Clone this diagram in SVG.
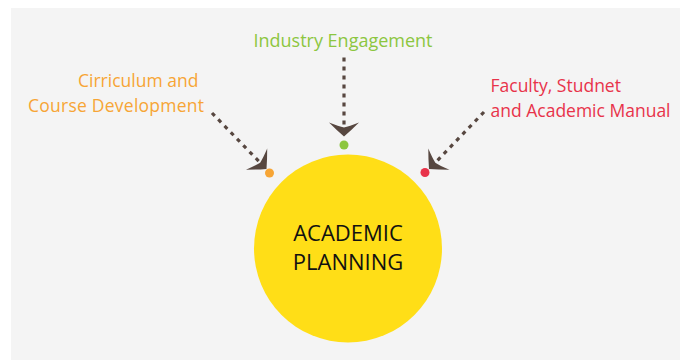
<svg xmlns="http://www.w3.org/2000/svg" width="680" height="360" viewBox="0 0 680 360">
<defs>
<style>
.lbl{font-family:"Open Sans","Noto Sans",sans-serif;font-size:17.5px}
.dash{fill:none;stroke:#574740;stroke-width:3.2;stroke-dasharray:4 5}
.head{fill:#574740}
</style>
<path id="ah" d="M0,0 Q-6,-7 -14,-15 Q-10,-5 -9,0 Q-10,5 -14,15 Q-6,7 0,0 Z"/>
</defs>
<rect x="11" y="8" width="669" height="352" fill="#f4f4f4"/>
<g id="connectors">
<line class="dash" x1="344" y1="57.5" x2="344" y2="127"/>
<use href="#ah" class="head" transform="translate(344,136.5) rotate(90)"/>
<line class="dash" x1="212" y1="113" x2="259.5" y2="162"/>
<use href="#ah" class="head" transform="translate(266.5,169) rotate(45)"/>
<line class="dash" x1="484" y1="112" x2="436" y2="162"/>
<use href="#ah" class="head" transform="translate(429,169) rotate(135)"/>
</g>
<g id="academic-planning">
<circle cx="348" cy="248.5" r="94" fill="#FFDE17"/>
<text x="348" y="240.5" text-anchor="middle" font-family="'Open Sans','Noto Sans',sans-serif" font-size="22" fill="#111">ACADEMIC</text>
<text x="348" y="270" text-anchor="middle" font-family="'Open Sans','Noto Sans',sans-serif" font-size="22" fill="#111">PLANNING</text>
</g>
<g id="industry-engagement">
<text class="lbl" x="343" y="47.3" text-anchor="middle" fill="#8CC63F" style="font-size:18px">Industry Engagement</text>
<circle cx="344" cy="145" r="4.5" fill="#8CC63F"/>
</g>
<g id="curriculum">
<text class="lbl" x="78" y="87.3" fill="#F7A535">Cirriculum and</text>
<text class="lbl" x="28" y="111.7" fill="#F7A535" textLength="176">Course Development</text>
<circle cx="269.5" cy="173" r="4.5" fill="#F7A535"/>
</g>
<g id="faculty">
<text class="lbl" x="490.5" y="92.3" fill="#E8334A">Faculty, Studnet</text>
<text class="lbl" x="490.5" y="116.7" fill="#E8334A">and Academic Manual</text>
<circle cx="425" cy="172.5" r="4.5" fill="#E8334A"/>
</g>
</svg>
